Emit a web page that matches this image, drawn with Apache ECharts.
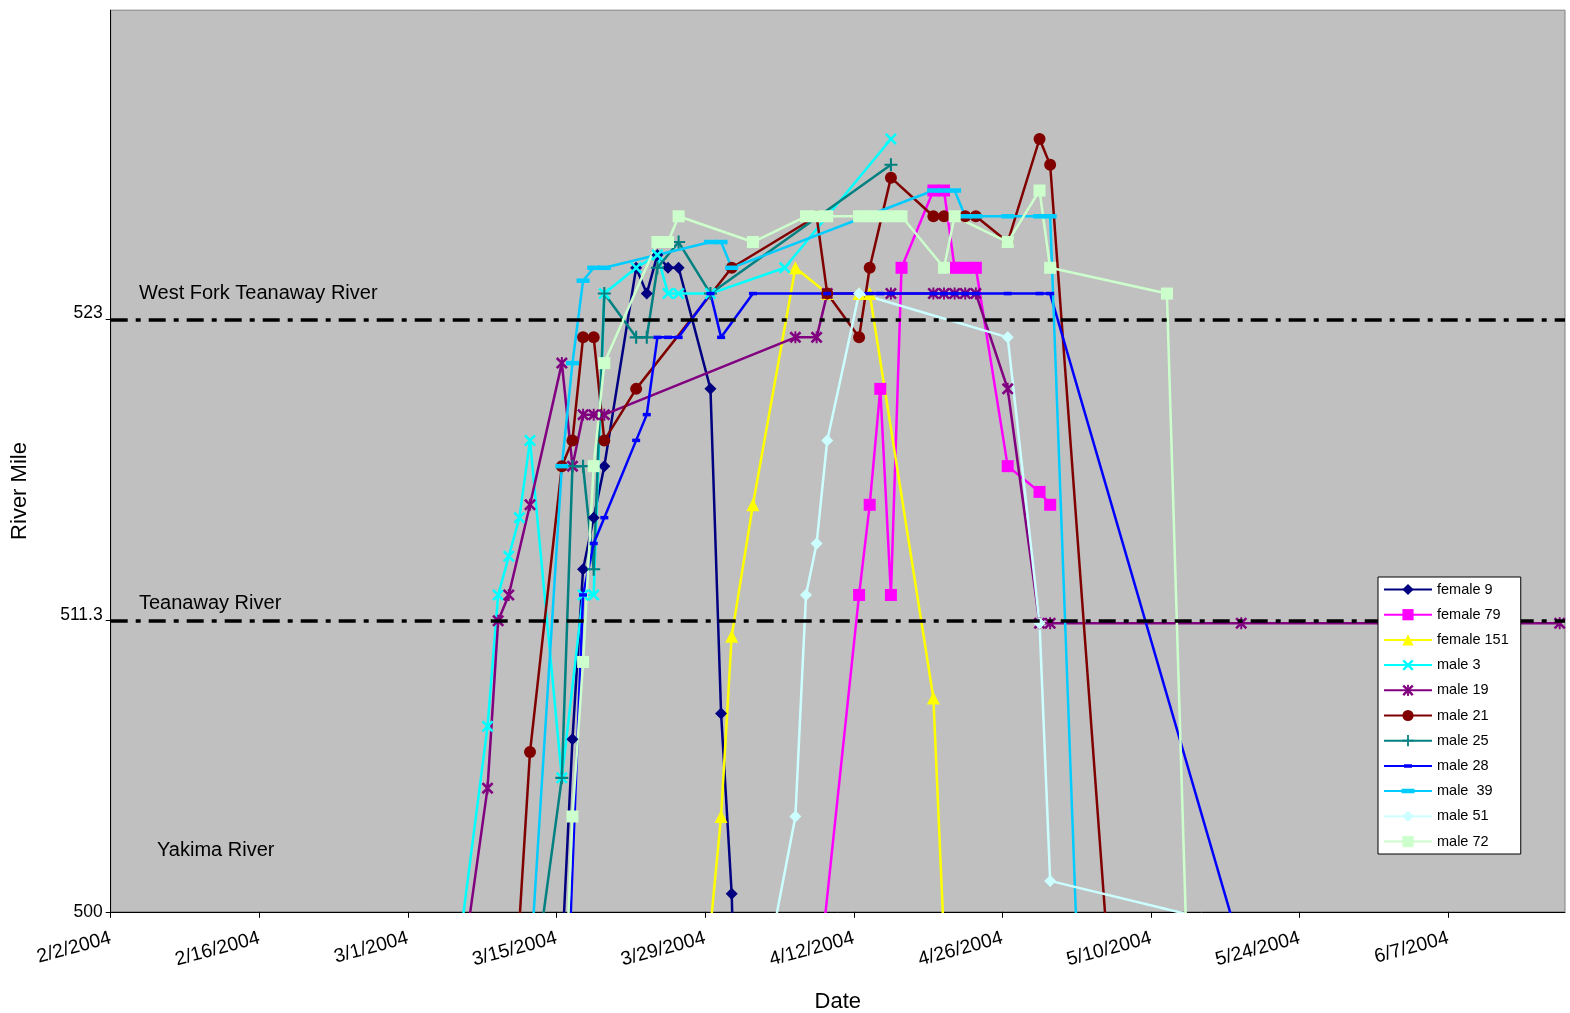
<!DOCTYPE html>
<html>
<head>
<meta charset="utf-8">
<title>Fish location by river mile, spring 2004</title>
<script src="https://cdn.jsdelivr.net/npm/echarts@6/dist/echarts.min.js"></script>
<style>
  html, body { margin: 0; padding: 0; background: #ffffff; }
  #chart { width: 1570px; height: 1013px; }
</style>
</head>
<body>
<div id="chart"></div>
<script>
// Tracked positions: [date, river mile]. Values below 500 are downstream in the Yakima River.
const female9 = [
  ['2004-03-15', 498.2], ['2004-03-16', 506.7], ['2004-03-17', 513.3], ['2004-03-18', 515.3], ['2004-03-19', 517.3],
  ['2004-03-22', 525], ['2004-03-23', 524], ['2004-03-24', 525.5], ['2004-03-25', 525], ['2004-03-26', 525],
  ['2004-03-29', 520.3], ['2004-03-30', 507.7], ['2004-03-31', 500.7], ['2004-04-01', 485]
];
const female79 = [
  ['2004-04-08', 496.7], ['2004-04-12', 512.3], ['2004-04-13', 515.8], ['2004-04-14', 520.3], ['2004-04-15', 512.3],
  ['2004-04-16', 525], ['2004-04-19', 528], ['2004-04-20', 528], ['2004-04-21', 525], ['2004-04-22', 525],
  ['2004-04-23', 525], ['2004-04-26', 517.3], ['2004-04-29', 516.3], ['2004-04-30', 515.8]
];
const female151 = [
  ['2004-03-29', 499.4], ['2004-03-30', 503.7], ['2004-03-31', 510.7], ['2004-04-02', 515.8], ['2004-04-06', 525],
  ['2004-04-09', 524], ['2004-04-12', 524], ['2004-04-13', 524], ['2004-04-19', 508.3], ['2004-04-20', 498.9]
];
const male3 = [
  ['2004-03-05', 497.6], ['2004-03-08', 507.2], ['2004-03-09', 512.3], ['2004-03-10', 513.8], ['2004-03-11', 515.3],
  ['2004-03-12', 518.3], ['2004-03-15', 505.2], ['2004-03-17', 512.3], ['2004-03-18', 512.3], ['2004-03-19', 524],
  ['2004-03-22', 525], ['2004-03-24', 525.5], ['2004-03-25', 524], ['2004-03-26', 524], ['2004-03-29', 524],
  ['2004-04-05', 525], ['2004-04-15', 530]
];
const male19 = [
  ['2004-03-06', 498.9], ['2004-03-08', 504.8], ['2004-03-09', 511.3], ['2004-03-10', 512.3], ['2004-03-12', 515.8],
  ['2004-03-15', 521.3], ['2004-03-16', 517.3], ['2004-03-17', 519.3], ['2004-03-18', 519.3], ['2004-03-19', 519.3],
  ['2004-04-06', 522.3], ['2004-04-08', 522.3], ['2004-04-09', 524], ['2004-04-15', 524], ['2004-04-19', 524],
  ['2004-04-20', 524], ['2004-04-21', 524], ['2004-04-22', 524], ['2004-04-23', 524], ['2004-04-26', 520.3],
  ['2004-04-29', 511.2], ['2004-04-30', 511.2], ['2004-05-18', 511.2], ['2004-06-17', 511.2]
];
const male21 = [
  ['2004-03-11', 499.6], ['2004-03-12', 506.2], ['2004-03-15', 517.3], ['2004-03-16', 518.3], ['2004-03-17', 522.3],
  ['2004-03-18', 522.3], ['2004-03-19', 518.3], ['2004-03-22', 520.3], ['2004-03-31', 525], ['2004-04-08', 527],
  ['2004-04-09', 524], ['2004-04-12', 522.3], ['2004-04-13', 525], ['2004-04-15', 528.5], ['2004-04-19', 527],
  ['2004-04-20', 527], ['2004-04-22', 527], ['2004-04-23', 527], ['2004-04-26', 526], ['2004-04-29', 530],
  ['2004-04-30', 529], ['2004-05-06', 495.3]
];
const male25 = [
  ['2004-03-13', 499.1], ['2004-03-15', 505.2], ['2004-03-16', 517.3], ['2004-03-17', 517.3], ['2004-03-18', 513.3],
  ['2004-03-19', 524], ['2004-03-22', 522.3], ['2004-03-23', 522.3], ['2004-03-24', 525], ['2004-03-26', 526],
  ['2004-03-29', 524], ['2004-04-15', 529]
];
const male28 = [
  ['2004-03-15', 491], ['2004-03-17', 512.3], ['2004-03-18', 514.3], ['2004-03-19', 515.3], ['2004-03-22', 518.3],
  ['2004-03-23', 519.3], ['2004-03-24', 522.3], ['2004-03-25', 522.3], ['2004-03-26', 522.3], ['2004-03-29', 524],
  ['2004-03-30', 522.3], ['2004-04-02', 524], ['2004-04-09', 524], ['2004-04-13', 524], ['2004-04-14', 524],
  ['2004-04-15', 524], ['2004-04-19', 524], ['2004-04-20', 524], ['2004-04-21', 524], ['2004-04-22', 524],
  ['2004-04-23', 524], ['2004-04-26', 524], ['2004-04-29', 524], ['2004-04-30', 524], ['2004-05-18', 498.5]
];
const male39 = [
  ['2004-03-12', 497.7], ['2004-03-15', 517.3], ['2004-03-16', 521.3], ['2004-03-17', 524.5], ['2004-03-18', 525],
  ['2004-03-19', 525], ['2004-03-29', 526], ['2004-03-30', 526], ['2004-03-31', 525], ['2004-04-19', 528],
  ['2004-04-20', 528], ['2004-04-21', 528], ['2004-04-22', 527], ['2004-04-23', 527], ['2004-04-26', 527],
  ['2004-04-29', 527], ['2004-04-30', 527], ['2004-05-03', 493.5]
];
const male51 = [
  ['2004-04-04', 499.4], ['2004-04-06', 503.7], ['2004-04-07', 512.3], ['2004-04-08', 514.3], ['2004-04-09', 518.3],
  ['2004-04-12', 524], ['2004-04-26', 522.3], ['2004-04-29', 511.2], ['2004-04-30', 501.2], ['2004-05-13', 499.9]
];
const male72 = [
  ['2004-03-15', 493.7], ['2004-03-16', 503.7], ['2004-03-17', 509.7], ['2004-03-18', 517.3], ['2004-03-19', 521.3],
  ['2004-03-24', 526], ['2004-03-25', 526], ['2004-03-26', 527], ['2004-04-02', 526], ['2004-04-07', 527],
  ['2004-04-08', 527], ['2004-04-09', 527], ['2004-04-12', 527], ['2004-04-13', 527], ['2004-04-14', 527],
  ['2004-04-15', 527], ['2004-04-16', 527], ['2004-04-20', 525], ['2004-04-21', 527], ['2004-04-26', 526],
  ['2004-04-29', 528], ['2004-04-30', 525], ['2004-05-11', 524], ['2004-05-13', 496.7]
];

const seriesNames = ['female 9', 'female 79', 'female 151', 'male 3', 'male 19', 'male 21',
                     'male 25', 'male 28', 'male  39', 'male 51', 'male 72'];
const seriesData = [female9, female79, female151, male3, male19, male21,
                    male25, male28, male39, male51, male72];

// Axis ticks and reach boundaries
const riverMileTicks = [500, 511.3, 523];
const dateTicks = ['2004-02-02', '2004-02-16', '2004-03-01', '2004-03-15', '2004-03-29',
                   '2004-04-12', '2004-04-26', '2004-05-10', '2004-05-24', '2004-06-07'];
const dateRange = ['2004-02-02', '2004-06-18'];
const mileRange = [500, 535];
const reachBoundaries = [
  { name: 'West Fork Teanaway River', mile: 523 },
  { name: 'Teanaway River', mile: 511.3 }
];

function toTime(s, hour) {
  const p = s.split('-').map(Number);
  return new Date(p[0], p[1] - 1, p[2], hour || 0).getTime();
}
// Each day is drawn in the middle of its day slot.
const toPoints = arr => arr.map(d => [toTime(d[0], 12), d[1]]);
const fmtDate = v => { const d = new Date(v); return (d.getMonth() + 1) + '/' + d.getDate() + '/' + d.getFullYear(); };

// Marker shapes
const SYM_X = 'path://M0,1.5L1.5,0L5,3.5L8.5,0L10,1.5L6.5,5L10,8.5L8.5,10L5,6.5L1.5,10L0,8.5L3.5,5Z';
const SYM_STAR = 'path://M0,1.5L1.5,0L5,3.5L8.5,0L10,1.5L6.5,5L10,8.5L8.5,10L5,6.5L1.5,10L0,8.5L3.5,5Z' +
                 'M4.2,0L5.8,0L5.8,10L4.2,10Z';
const SYM_PLUS = 'path://M4.2,0L5.8,0L5.8,4.2L10,4.2L10,5.8L5.8,5.8L5.8,10L4.2,10L4.2,5.8L0,5.8L0,4.2L4.2,4.2Z';

// Legend keys for the dash markers: a line with a short bar in the middle (48 x 14 box)
const KEY_FRAME = 'M24,0L24.02,0L24,0.02Z M24,14L24.02,14L24,13.98Z M0,6L48,6L48,8L0,8Z ';
const KEY_DASH_SMALL = 'path://' + KEY_FRAME + 'M20,5.25L28,5.25L28,8.75L20,8.75Z';
const KEY_DASH_WIDE = 'path://' + KEY_FRAME + 'M17.5,4.75L30.5,4.75L30.5,9.25L17.5,9.25Z';

const styles = [
  { color: '#000080', symbol: 'diamond',  size: 12 },
  { color: '#FF00FF', symbol: 'rect',     size: 12 },
  { color: '#FFFF00', symbol: 'triangle', size: 13 },
  { color: '#00FFFF', symbol: SYM_X,      size: 12 },
  { color: '#800080', symbol: SYM_STAR,   size: 12 },
  { color: '#800000', symbol: 'circle',   size: 12 },
  { color: '#008080', symbol: SYM_PLUS,   size: 13 },
  { color: '#0000FF', symbol: 'rect',     size: [8, 3.5],  key: KEY_DASH_SMALL },
  { color: '#00CCFF', symbol: 'rect',     size: [13, 4.5], key: KEY_DASH_WIDE },
  { color: '#CCFFFF', symbol: 'diamond',  size: 12 },
  { color: '#CCFFCC', symbol: 'rect',     size: 12 }
];

const FONT = 'Liberation Sans, Arial, sans-serif';

const series = seriesData.map((arr, i) => ({
  name: seriesNames[i],
  type: 'line',
  data: toPoints(arr),
  symbol: styles[i].symbol,
  symbolSize: styles[i].size,
  showSymbol: true,
  clip: true,
  lineStyle: { color: styles[i].color, width: 2.5 },
  itemStyle: { color: styles[i].color },
  emphasis: { disabled: true },
  z: 3
}));

// Reach boundary lines
series.push({
  name: 'reach',
  type: 'line',
  data: [],
  silent: true,
  markLine: {
    symbol: 'none',
    silent: true,
    label: { show: false },
    lineStyle: { color: '#000000', width: 3.5, type: [17, 8, 5, 8] },
    data: reachBoundaries.map(r => ({ yAxis: r.mile }))
  },
  z: 2
});

const chart = echarts.init(document.getElementById('chart'));
chart.setOption({
  animation: false,
  backgroundColor: '#ffffff',
  textStyle: { fontFamily: FONT },
  grid: {
    left: 110.7, right: 5, top: 10.2, bottom: 101.2,
    containLabel: false,
    outerBoundsMode: 'none',
    show: true, backgroundColor: '#C0C0C0', borderColor: '#808080', borderWidth: 1
  },
  xAxis: {
    type: 'value',
    min: toTime(dateRange[0]),
    max: toTime(dateRange[1]),
    name: 'Date',
    nameLocation: 'middle',
    nameGap: 79,
    nameTextStyle: { fontFamily: FONT, fontSize: 22, color: '#000' },
    axisLine: { show: true, lineStyle: { color: '#000', width: 1 } },
    axisTick: { show: true, length: 6, lineStyle: { color: '#000' },
                customValues: dateTicks.map(d => toTime(d)) },
    axisLabel: {
      show: true,
      customValues: dateTicks.map(d => toTime(d)),
      rotate: 15,
      margin: 26,
      fontFamily: FONT, fontSize: 19.5, color: '#000',
      formatter: fmtDate
    },
    splitLine: { show: false }
  },
  yAxis: {
    type: 'value',
    min: mileRange[0],
    max: mileRange[1],
    axisLine: { show: true, lineStyle: { color: '#000', width: 1 } },
    axisTick: { show: true, length: 5, lineStyle: { color: '#000' }, customValues: riverMileTicks },
    axisLabel: {
      show: true, customValues: riverMileTicks, margin: 8,
      fontFamily: FONT, fontSize: 17.5, color: '#000',
      formatter: v => v === mileRange[0] ? String(v) : '{up|' + v + '}',
      rich: { up: { fontFamily: FONT, fontSize: 17.5, color: '#000', padding: [0, 0, 12, 0] } }
    },
    splitLine: { show: false }
  },
  legend: {
    orient: 'vertical',
    left: 1378, top: 577,
    width: 143,
    z: 10,
    padding: [5, 12, 5, 5],
    itemWidth: 48, itemHeight: 14, itemGap: 10.2,
    backgroundColor: '#ffffff',
    borderColor: '#000000', borderWidth: 1, borderRadius: 0,
    data: seriesNames.map((n, i) => styles[i].key ? { name: n, icon: styles[i].key } : { name: n }),
    textStyle: { fontFamily: FONT, fontSize: 14.5, color: '#000' },
    selectedMode: false
  },
  graphic: [
    { type: 'text', x: 20, y: 491, rotation: Math.PI / 2, silent: true,
      style: { text: 'River Mile', font: '22px ' + FONT, fill: '#000', textAlign: 'center', textVerticalAlign: 'middle' } },
    { type: 'text', x: 139, y: 293, silent: true,
      style: { text: reachBoundaries[0].name, font: '20px ' + FONT, fill: '#000', textVerticalAlign: 'middle' } },
    { type: 'text', x: 139, y: 603, silent: true,
      style: { text: reachBoundaries[1].name, font: '20px ' + FONT, fill: '#000', textVerticalAlign: 'middle' } },
    { type: 'text', x: 157, y: 850, silent: true,
      style: { text: 'Yakima River', font: '20px ' + FONT, fill: '#000', textVerticalAlign: 'middle' } }
  ],
  series: series
});
</script>
</body>
</html>
